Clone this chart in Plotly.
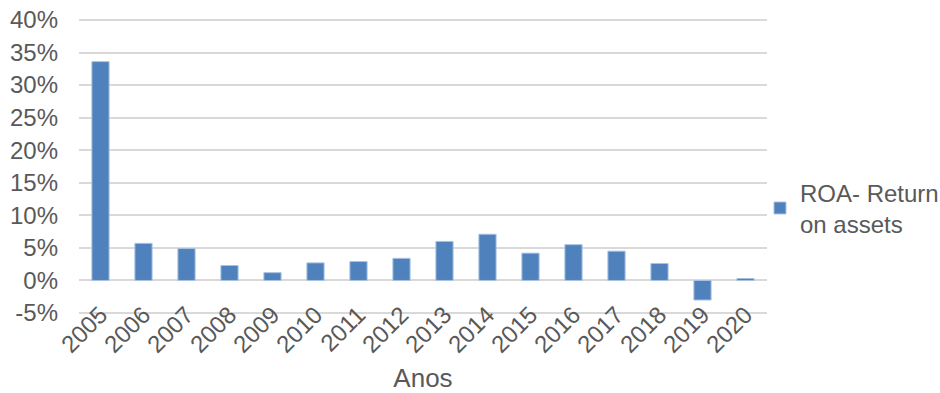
import plotly.graph_objects as go

years = ["2005", "2006", "2007", "2008", "2009", "2010", "2011", "2012",
         "2013", "2014", "2015", "2016", "2017", "2018", "2019", "2020"]
roa = [0.336, 0.057, 0.049, 0.023, 0.012, 0.027, 0.029, 0.034,
       0.060, 0.071, 0.042, 0.055, 0.045, 0.026, -0.030, 0.003]
y_ticks = [-0.05, 0.0, 0.05, 0.10, 0.15, 0.20, 0.25, 0.30, 0.35, 0.40]
y_tick_labels = ["-5%", "0%", "5%", "10%", "15%", "20%", "25%", "30%", "35%", "40%"]

text_color = "#595959"
grid_color = "#d9d9d9"
bar_color = "#4f81bd"

fig = go.Figure(
    go.Bar(
        x=years,
        y=roa,
        name="ROA- Return<br>on assets",
        marker=dict(color=bar_color, line=dict(color="#a9c2e0", width=1)),
        width=0.4,
        showlegend=True,
    )
)

fig.update_layout(
    width=940,
    height=393,
    margin=dict(l=79, r=173, t=18, b=78, autoexpand=False),
    paper_bgcolor="white",
    plot_bgcolor="white",
    font=dict(family="Liberation Sans, Arial, sans-serif", size=24, color=text_color),
    showlegend=True,
    legend=dict(
        xref="container",
        yref="container",
        x=0.8085,
        y=0.47,
        xanchor="left",
        yanchor="middle",
        font=dict(size=24, color=text_color),
        itemwidth=30,
        tracegroupgap=0,
        bgcolor="rgba(0,0,0,0)",
    ),
    xaxis=dict(
        title=dict(text="Anos", font=dict(size=26, color=text_color), standoff=14),
        tickangle=-45,
        tickfont=dict(size=24, color=text_color),
        ticklabelstandoff=-20,
        showgrid=False,
        showline=False,
        ticks="",
        automargin=False,
    ),
    yaxis=dict(
        range=[-0.053, 0.403],
        tickvals=y_ticks,
        ticktext=y_tick_labels,
        tickfont=dict(size=24, color=text_color),
        ticklabelstandoff=20,
        showgrid=True,
        gridcolor=grid_color,
        gridwidth=1.5,
        zeroline=True,
        zerolinecolor=grid_color,
        zerolinewidth=1.5,
        showline=False,
        ticks="",
        automargin=False,
    ),
)

fig.write_html("out.html")
